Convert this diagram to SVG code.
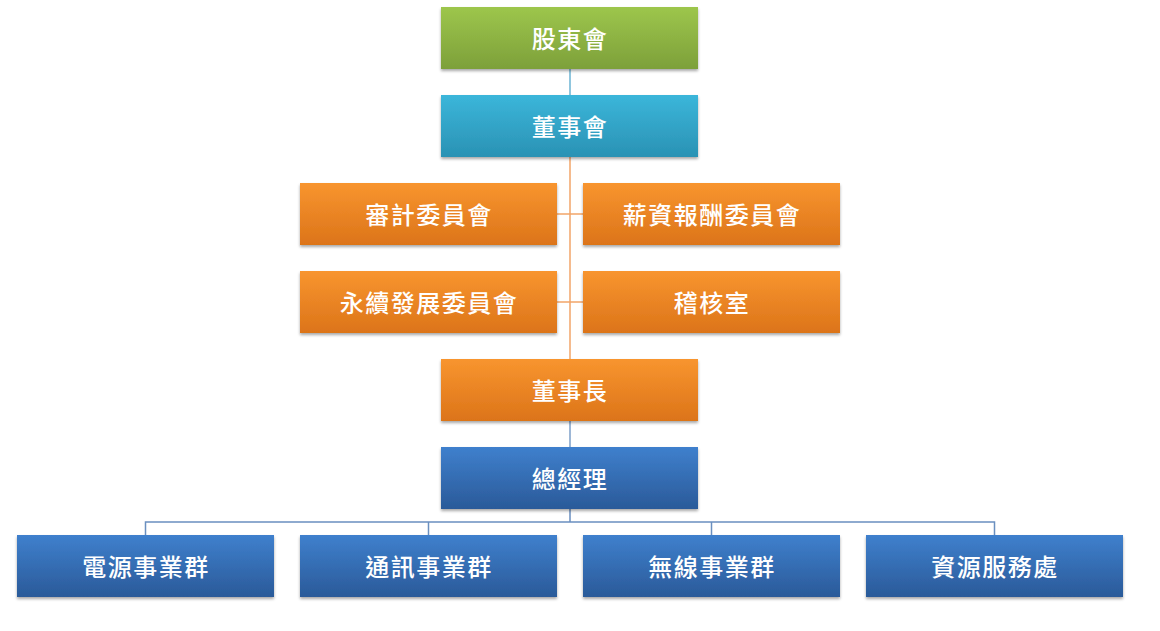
<svg xmlns="http://www.w3.org/2000/svg" width="1160" height="631" viewBox="0 0 1160 631">
<defs>
<linearGradient id="gGreen" x1="0" y1="0" x2="0" y2="1"><stop offset="0" stop-color="#9dc64c"/><stop offset="1" stop-color="#7da03a"/></linearGradient>
<linearGradient id="gCyan" x1="0" y1="0" x2="0" y2="1"><stop offset="0" stop-color="#3bb6da"/><stop offset="1" stop-color="#2a92b4"/></linearGradient>
<linearGradient id="gOrange" x1="0" y1="0" x2="0" y2="1"><stop offset="0" stop-color="#f8952f"/><stop offset="1" stop-color="#dc7419"/></linearGradient>
<linearGradient id="gBlue" x1="0" y1="0" x2="0" y2="1"><stop offset="0" stop-color="#3f80cd"/><stop offset="1" stop-color="#2a5a99"/></linearGradient>
<filter id="sh" x="-5%" y="-10%" width="110%" height="130%"><feGaussianBlur in="SourceAlpha" stdDeviation="1.5"/><feOffset dy="2" result="b"/><feComponentTransfer><feFuncA type="linear" slope="0.35"/></feComponentTransfer><feMerge><feMergeNode/><feMergeNode in="SourceGraphic"/></feMerge></filter>
</defs>
<style>
.box{filter:url(#sh);}
.t{font-family:"Noto Sans CJK TC","Noto Sans CJK SC",sans-serif;font-size:24px;font-weight:500;fill:#ffffff;text-anchor:middle;dominant-baseline:central;letter-spacing:1.5px;}
.c{fill:none;stroke-width:1.5;}
</style>
<rect width="1160" height="631" fill="#ffffff"/>
<g id="connectors">
<path class="c" stroke="#6bb3d3" d="M570,69V95"/>
<path class="c" stroke="#f2a56a" d="M570,157V359M557,214H583M557,302H583"/>
<path class="c" stroke="#7d9fc8" d="M570,421V447"/>
<path class="c" stroke="#6a8fc0" d="M570,509V522M145.5,535V522H994.5V535M428.5,522V535M711.5,522V535"/>
</g>
<g id="n1"><rect class="box" x="441" y="7" width="257" height="62" fill="url(#gGreen)"/><text class="t" x="570" y="37">股東會</text></g>
<g id="n2"><rect class="box" x="441" y="95" width="257" height="62" fill="url(#gCyan)"/><text class="t" x="570" y="125">董事會</text></g>
<g id="n3"><rect class="box" x="300" y="183" width="257" height="62" fill="url(#gOrange)"/><text class="t" x="429" y="213">審計委員會</text></g>
<g id="n4"><rect class="box" x="583" y="183" width="257" height="62" fill="url(#gOrange)"/><text class="t" x="712" y="213">薪資報酬委員會</text></g>
<g id="n5"><rect class="box" x="300" y="271" width="257" height="62" fill="url(#gOrange)"/><text class="t" x="429" y="301">永續發展委員會</text></g>
<g id="n6"><rect class="box" x="583" y="271" width="257" height="62" fill="url(#gOrange)"/><text class="t" x="712" y="301">稽核室</text></g>
<g id="n7"><rect class="box" x="441" y="359" width="257" height="62" fill="url(#gOrange)"/><text class="t" x="570" y="389">董事長</text></g>
<g id="n8"><rect class="box" x="441" y="447" width="257" height="62" fill="url(#gBlue)"/><text class="t" x="570" y="477">總經理</text></g>
<g id="n9"><rect class="box" x="17" y="535" width="257" height="62" fill="url(#gBlue)"/><text class="t" x="146" y="565">電源事業群</text></g>
<g id="n10"><rect class="box" x="300" y="535" width="257" height="62" fill="url(#gBlue)"/><text class="t" x="429" y="565">通訊事業群</text></g>
<g id="n11"><rect class="box" x="583" y="535" width="257" height="62" fill="url(#gBlue)"/><text class="t" x="712" y="565">無線事業群</text></g>
<g id="n12"><rect class="box" x="866" y="535" width="257" height="62" fill="url(#gBlue)"/><text class="t" x="995" y="565">資源服務處</text></g>
</svg>
